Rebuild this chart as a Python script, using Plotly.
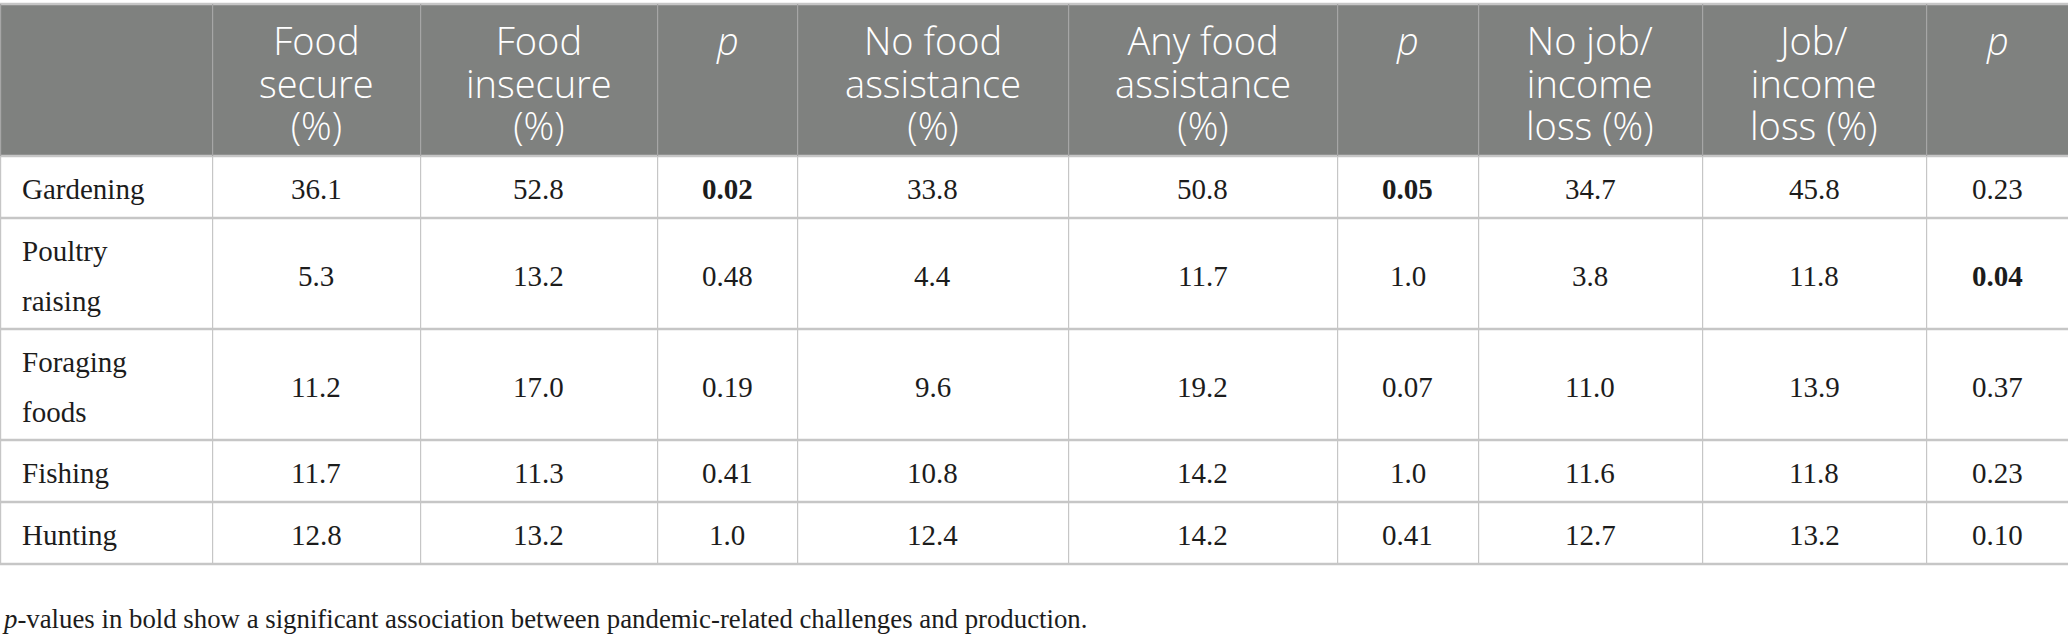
import plotly.graph_objects as go

categories = ["Gardening", "Poultry<br>raising", "Foraging<br>foods", "Fishing", "Hunting"]
headers = [
    "",
    "Food<br>secure<br>(%)",
    "Food<br>insecure<br>(%)",
    "<i>p</i>",
    "No food<br>assistance<br>(%)",
    "Any food<br>assistance<br>(%)",
    "<i>p</i>",
    "No job/<br>income<br>loss (%)",
    "Job/<br>income<br>loss (%)",
    "<i>p</i>",
]
food_secure = [36.1, 5.3, 11.2, 11.7, 12.8]
food_insecure = [52.8, 13.2, 17.0, 11.3, 13.2]
p_food = ["0.02", "0.48", "0.19", "0.41", "1.0"]
no_assist = [33.8, 4.4, 9.6, 10.8, 12.4]
any_assist = [50.8, 11.7, 19.2, 14.2, 14.2]
p_assist = ["0.05", "1.0", "0.07", "1.0", "0.41"]
no_job = [34.7, 3.8, 11.0, 11.6, 12.7]
job_loss = [45.8, 11.8, 13.9, 11.8, 13.2]
p_job = ["0.23", "0.04", "0.37", "0.23", "0.10"]
footnote = "<i>p</i>-values in bold show a significant association between pandemic-related challenges and production."

columns = [food_secure, food_insecure, p_food, no_assist, any_assist, p_assist, no_job, job_loss, p_job]

# layout sizes (pixels)
W, H = 2068, 640
col_widths = [212, 208, 237, 140, 271, 269, 141, 224, 224, 142]
top = 4
header_h = 152
row_h_single, row_h_double = 62, 111
head_gap = 42.5        # header baseline-to-baseline
head_size = 38         # header glyph size
head_top = 8
body_gap = 50

HEAD_FILL = "#7f817f"
GRID = "#c6c6c6"
HEAD_GRID = "#a6a6a6"
TXT = "#1c1c1c"
SERIF = "Liberation Serif, Times New Roman, serif"
SANS = "Open Sans, Lato, sans-serif"

x_edges = [0]
for w in col_widths:
    x_edges.append(x_edges[-1] + w)
y_edges = [top, top + header_h]
for c in categories:
    y_edges.append(y_edges[-1] + (row_h_double if "<br>" in c else row_h_single))

fig = go.Figure()
shapes = []
ann = []

# header band
shapes.append(dict(type="rect", x0=0, x1=W, y0=y_edges[0], y1=y_edges[1],
                   fillcolor=HEAD_FILL, line_width=0, layer="below"))

# horizontal rules
for y in y_edges:
    shapes.append(dict(type="line", x0=0, x1=W, y0=y, y1=y,
                       line=dict(color=GRID, width=2.5)))
# vertical rules
for x in x_edges[:-1]:
    shapes.append(dict(type="line", x0=x + 0.6, x1=x + 0.6, y0=y_edges[0], y1=y_edges[1],
                       line=dict(color=HEAD_GRID, width=1.2)))
    shapes.append(dict(type="line", x0=x + 0.6, x1=x + 0.6, y0=y_edges[1], y1=y_edges[-1],
                       line=dict(color=GRID, width=1.2)))

# header text: line spacing comes from the base font size (1.3em),
# glyphs are enlarged with a span so the lines sit as tight as in the print
for j, h in enumerate(headers):
    if not h:
        continue
    xc = (x_edges[j] + x_edges[j + 1]) / 2
    txt = "<br>".join("<span style='font-size:%dpx'>%s</span>" % (head_size, s)
                      for s in h.split("<br>"))
    ann.append(dict(x=xc, y=top + head_top, text=txt,
                    xanchor="center", yanchor="top", showarrow=False,
                    font=dict(family=SANS, size=head_gap / 1.3, color="white", weight=300)))

# body text
for r, cat in enumerate(categories):
    yc = (y_edges[r + 1] + y_edges[r + 2]) / 2 + 2
    lines = cat.split("<br>")
    txt = "<br>".join("<span style='font-size:29px'>%s</span>" % s for s in lines)
    ann.append(dict(x=20, y=yc, text=txt, xanchor="left", yanchor="middle", align="left",
                    showarrow=False,
                    font=dict(family=SERIF, size=body_gap / 1.3, color=TXT)))
    for j, col in enumerate(columns):
        v = col[r]
        if isinstance(v, str):
            txt = "<b>%s</b>" % v if float(v) <= 0.05 else v
        else:
            txt = "%.1f" % v
        xc = (x_edges[j + 1] + x_edges[j + 2]) / 2
        ann.append(dict(x=xc, y=yc, text=txt, xanchor="center", yanchor="middle",
                        showarrow=False, font=dict(family=SERIF, size=29, color=TXT)))

ann.append(dict(x=0, y=619, text=footnote, xanchor="left", yanchor="middle",
                showarrow=False, font=dict(family=SERIF, size=26.8, color=TXT)))

fig.update_layout(
    width=W, height=H,
    margin=dict(l=0, r=0, t=0, b=0),
    paper_bgcolor="white", plot_bgcolor="white",
    shapes=shapes, annotations=ann,
    showlegend=False,
)
fig.update_xaxes(range=[0, W], visible=False, fixedrange=True)
fig.update_yaxes(range=[H, 0], visible=False, fixedrange=True)
fig.write_html("out.html", config={"displayModeBar": False},
               post_script="document.body.style.margin='0';")
